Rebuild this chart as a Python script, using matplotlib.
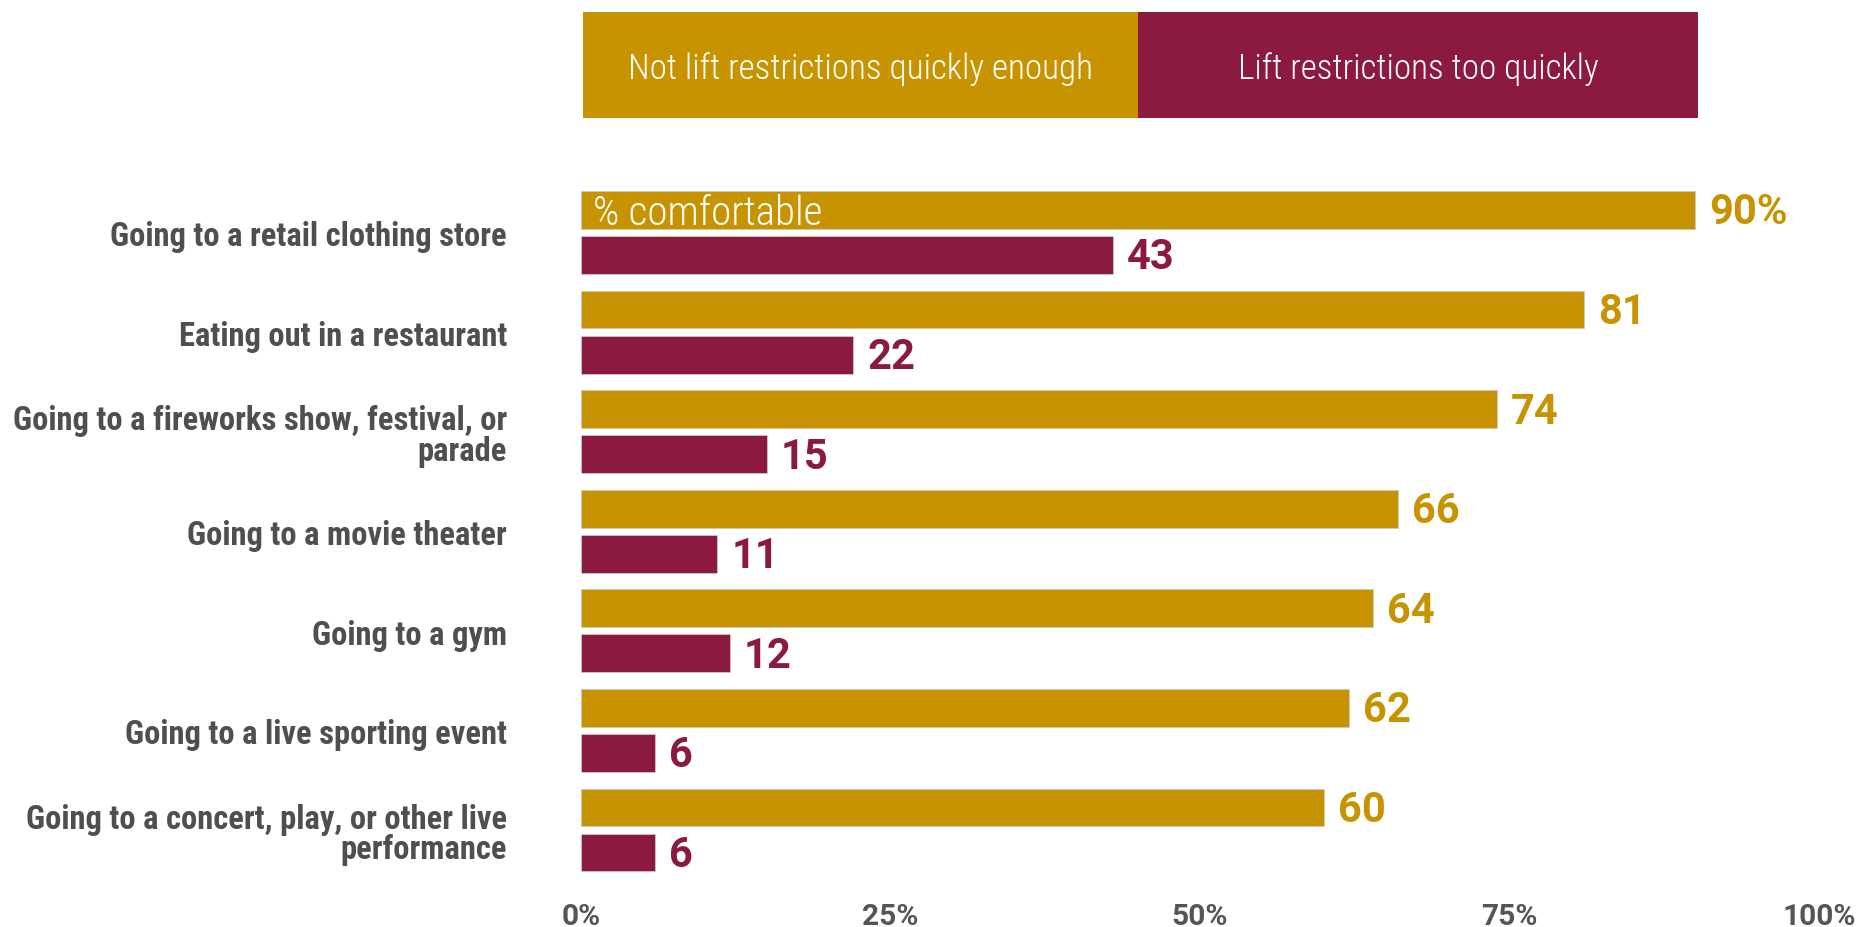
import matplotlib
matplotlib.use("Agg")
import matplotlib.pyplot as plt
import numpy as np
from matplotlib import font_manager
from matplotlib.patches import Rectangle

# ---- data -------------------------------------------------------------
activities = [
    "Going to a retail clothing store",
    "Eating out in a restaurant",
    "Going to a fireworks show, festival, or\nparade",
    "Going to a movie theater",
    "Going to a gym",
    "Going to a live sporting event",
    "Going to a concert, play, or other live\nperformance",
]
not_quick_enough = [90, 81, 74, 66, 64, 62, 60]
too_quickly = [43, 22, 15, 11, 12, 6, 6]
series_names = ["Not lift restrictions quickly enough", "Lift restrictions too quickly"]
tick_values = [0, 25, 50, 75, 100]
tick_labels = ["0%", "25%", "50%", "75%", "100%"]

# ---- style ------------------------------------------------------------
GOLD = "#C79300"
MAROON = "#8B1A3E"
LABEL_GRAY = "#4F4F4F"
TICK_GRAY = "#555555"

installed = {f.name for f in font_manager.fontManager.ttflist}
NARROW = "Roboto Condensed" if "Roboto Condensed" in installed else "Roboto"
WIDE = "Roboto" if "Roboto" in installed else "DejaVu Sans"

W, H = 1858, 928
fig = plt.figure(figsize=(W / 100, H / 100), dpi=100)
fig.patch.set_facecolor("white")

ax_top, ax_bottom = 140, 895
ax = fig.add_axes([581 / W, (H - ax_bottom) / H, (1819 - 581) / W, (ax_bottom - ax_top) / H])

pitch = 99.6
ax.set_xlim(0, 100)
ax.set_ylim(6 + (ax_bottom - 831) / pitch, -(233.5 - ax_top) / pitch)

y = np.arange(len(activities))
bar_h = 0.38
off = 0.226
ax.barh(y - off, not_quick_enough, height=bar_h, color=GOLD,
        edgecolor="#c9c9c9", linewidth=0.6)
ax.barh(y + off, too_quickly, height=bar_h, color=MAROON,
        edgecolor="#c9c9c9", linewidth=0.6)

renderer = fig.canvas.get_renderer()


def fit_width(txt, target_px):
    w = txt.get_window_extent(renderer).width
    txt.set_fontsize(txt.get_fontsize() * target_px / w)


# value labels
for i, (g, r) in enumerate(zip(not_quick_enough, too_quickly)):
    glab = f"{g}%" if i == 0 else f"{g}"
    ax.annotate(glab, xy=(g, y[i] - off), xytext=(14, -2), textcoords="offset pixels",
                ha="left", va="center", fontsize=30, fontweight="bold",
                color=GOLD, family=WIDE)
    ax.annotate(f"{r}", xy=(r, y[i] + off), xytext=(14, -2), textcoords="offset pixels",
                ha="left", va="center", fontsize=30, fontweight="bold",
                color=MAROON, family=WIDE)

# category labels
cat_texts = []
for i, name in enumerate(activities):
    t = ax.annotate(name, xy=(0, y[i]), xytext=(-74, -4), textcoords="offset pixels",
                    ha="right", va="center", fontsize=22, fontweight="bold",
                    color=LABEL_GRAY, family=NARROW, linespacing=0.95,
                    multialignment="right")
    cat_texts.append(t)
fit_width(cat_texts[0], 397)
for t in cat_texts[1:]:
    t.set_fontsize(cat_texts[0].get_fontsize())

# in-bar note
note = ax.annotate("% comfortable", xy=(0, y[0] - off), xytext=(12, -3),
                   textcoords="offset pixels", ha="left", va="center",
                   fontsize=22, fontweight="light", color="white", family=NARROW)
fit_width(note, 229)

# x axis
ax.set_xticks(tick_values)
ax.set_xticklabels(tick_labels)
ax.tick_params(axis="x", length=0, pad=6, labelsize=21.5, labelcolor=TICK_GRAY)
for lab in ax.get_xticklabels():
    lab.set_fontweight("bold")
    lab.set_family(WIDE)
ax.set_yticks([])
for s in ax.spines.values():
    s.set_visible(False)

# legend header boxes
box_top, box_bot = 13, 119
edges = [583, 1138, 1698]
leg_texts = []
for k, (name, col) in enumerate(zip(series_names, [GOLD, MAROON])):
    x0, x1 = edges[k], edges[k + 1]
    fig.add_artist(Rectangle((x0 / W, (H - box_bot) / H), (x1 - x0) / W,
                             (box_bot - box_top) / H, transform=fig.transFigure,
                             facecolor=col, edgecolor="none"))
    t = fig.text((x0 + x1) / 2 / W, (H - (box_top + box_bot) / 2 - 3) / H, name,
                 ha="center", va="center", color="white", fontsize=22,
                 fontweight="light", family=NARROW)
    leg_texts.append(t)
fit_width(leg_texts[0], 466)
leg_texts[1].set_fontsize(leg_texts[0].get_fontsize())

fig.savefig("out.png", dpi=100, facecolor="white")
